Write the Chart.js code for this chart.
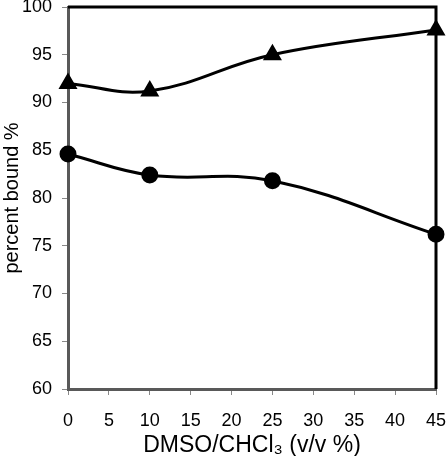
<!DOCTYPE html>
<html>
<head>
<meta charset="utf-8">
<script src="https://cdn.jsdelivr.net/npm/chart.js@4"></script>
<style>
  html, body { margin: 0; padding: 0; background: #fff; }
  #wrap { width: 448px; height: 456px; }
</style>
</head>
<body>
<div id="wrap"><canvas id="grafico" width="448" height="456"></canvas></div>
<script>
const dmso = [0, 10, 25, 45];
const serieTriangulo = [92.0, 91.2, 95.0, 97.6];
const serieCirculo = [84.6, 82.4, 81.8, 76.2];
const yMin = 60, yMax = 100, yStep = 5;
const xMin = 0, xMax = 45, xStep = 5;

const pontos = (ys) => dmso.map((x, i) => ({ x, y: ys[i] }));

// moldura preta em cima e a direita
const moldura = {
  id: 'moldura',
  afterDatasetsDraw(chart) {
    const { ctx, chartArea: a } = chart;
    ctx.save();
    ctx.strokeStyle = '#000';
    ctx.lineWidth = 3;
    ctx.beginPath();
    ctx.moveTo(a.left, a.top);
    ctx.lineTo(a.right, a.top);
    ctx.lineTo(a.right, a.bottom);
    ctx.stroke();
    ctx.restore();
  }
};

new Chart(document.getElementById('grafico').getContext('2d'), {
  type: 'line',
  data: {
    datasets: [
      {
        data: pontos(serieTriangulo),
        borderColor: '#000',
        backgroundColor: '#000',
        borderWidth: 3,
        tension: 0.4,
        pointStyle: 'triangle',
        pointRadius: 8,
        pointHoverRadius: 8
      },
      {
        data: pontos(serieCirculo),
        borderColor: '#000',
        backgroundColor: '#000',
        borderWidth: 3,
        tension: 0.4,
        pointStyle: 'circle',
        pointRadius: 7,
        pointHoverRadius: 7
      }
    ]
  },
  options: {
    responsive: false,
    animation: false,
    clip: false,
    layout: { autoPadding: false, padding: { top: 7, right: 12, left: 0, bottom: 0 } },
    plugins: { legend: { display: false }, tooltip: { enabled: false } },
    scales: {
      x: {
        type: 'linear',
        min: xMin, max: xMax,
        afterFit: (s) => { s.height = 67; s.paddingLeft = 0; s.paddingRight = 0; },
        ticks: { stepSize: xStep, color: '#000', font: { family: 'Liberation Sans', size: 18 }, padding: 15, maxRotation: 0 },
        grid: { display: true, drawOnChartArea: false, drawTicks: true, tickLength: 6, color: '#888', lineWidth: 1 },
        border: { display: true, color: '#595959', width: 3 },
        title: { display: true, text: 'DMSO/CHCl₃ (v/v %)', color: '#000', font: { family: 'Liberation Sans', size: 23 }, padding: { top: 2, bottom: -3 } }
      },
      y: {
        min: yMin, max: yMax,
        afterFit: (s) => { s.width = 68; s.paddingTop = 0; s.paddingBottom = 0; },
        ticks: { stepSize: yStep, color: '#000', font: { family: 'Liberation Sans', size: 18 }, padding: 10 },
        grid: { display: true, drawOnChartArea: false, drawTicks: true, tickLength: 6, color: '#888', lineWidth: 1 },
        border: { display: true, color: '#595959', width: 3 },
        title: { display: true, text: 'percent bound %', color: '#000', font: { family: 'Liberation Sans', size: 20 }, padding: { top: 0, bottom: 2 } }
      }
    }
  },
  plugins: [moldura]
});
</script>
</body>
</html>
